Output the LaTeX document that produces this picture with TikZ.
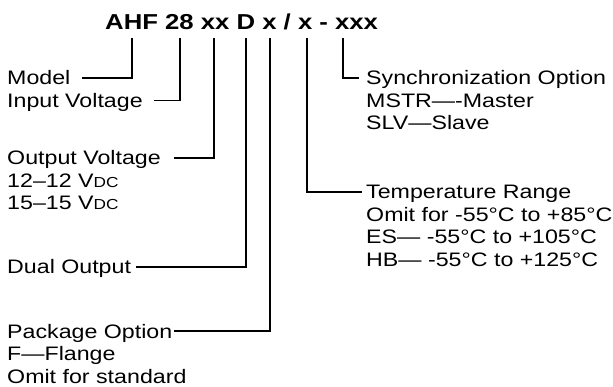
\documentclass[tikz,border=0pt]{standalone}
\usepackage{fontspec}
\setmainfont{Liberation Sans}[FakeStretch=1.19]
\newcommand{\bodyfont}{\fontsize{19.5}{22}\selectfont}
\newcommand{\smcap}[1]{{\fontsize{14.5}{15}\selectfont #1}}
\begin{document}
\begin{tikzpicture}[x=1pt,y=-1pt,
  lbl/.style={anchor=west, inner sep=0pt, text height=14pt, text depth=0pt, font=\bodyfont},
  conn/.style={line width=1.2pt, line cap=butt, line join=miter}]
\useasboundingbox (0,0) rectangle (613,387);
\node[anchor=base west, inner sep=0pt, font=\bfseries\fontsize{21.6}{24}\selectfont] (title) at (105,30) {AHF 28 xx D x / x - xxx};
% left column
\node[lbl] (model) at (7,78) {Model};
\node[lbl] (input) at (7,100.5) {Input Voltage};
\node[lbl] (outv) at (7,158) {Output Voltage};
\node[lbl] (v12) at (7,180.5) {12–12 V\smcap{DC}};
\node[lbl] (v15) at (7,203) {15–15 V\smcap{DC}};
\node[lbl] (dual) at (7,267) {Dual Output};
\node[lbl] (pkg) at (7,331) {Package Option};
\node[lbl] (flange) at (7,353.5) {F—Flange};
\node[lbl] (omitstd) at (7,376) {Omit for standard};
% right column
\node[lbl] (sync) at (366,78) {Synchronization Option};
\node[lbl] (mstr) at (366,100.5) {MSTR—-Master};
\node[lbl] (slv) at (366,123) {SLV—Slave};
\node[lbl] (temp) at (366,192) {Temperature Range};
\node[lbl] (omitt) at (366,214.5) {Omit for -55°C to +85°C};
\node[lbl] (es) at (366,237) {ES— -55°C to +105°C};
\node[lbl] (hb) at (366,259.5) {HB— -55°C to +125°C};
% tops of the leader lines, under the characters of the part number
\coordinate (tModel) at (132,38);
\coordinate (tIn) at (180,38);
\coordinate (tOut) at (214,38);
\coordinate (tD) at (246,38);
\coordinate (tPkg) at (270,38);
\coordinate (tTemp) at (307,38);
\coordinate (tSync) at (343,38);
\draw[conn] (tModel) |- ([xshift=11pt]model.east);
\draw[conn] (tIn) |- ([xshift=11pt]input.east);
\draw[conn] (tOut) |- ([xshift=13pt]outv.east);
\draw[conn] (tD) |- ([xshift=5pt]dual.east);
\draw[conn] (tPkg) |- ([xshift=1pt]pkg.east);
\draw[conn] (tTemp) |- ([xshift=-4pt]temp.west);
\draw[conn] (tSync) |- ([xshift=-7pt]sync.west);
\end{tikzpicture}
\end{document}
